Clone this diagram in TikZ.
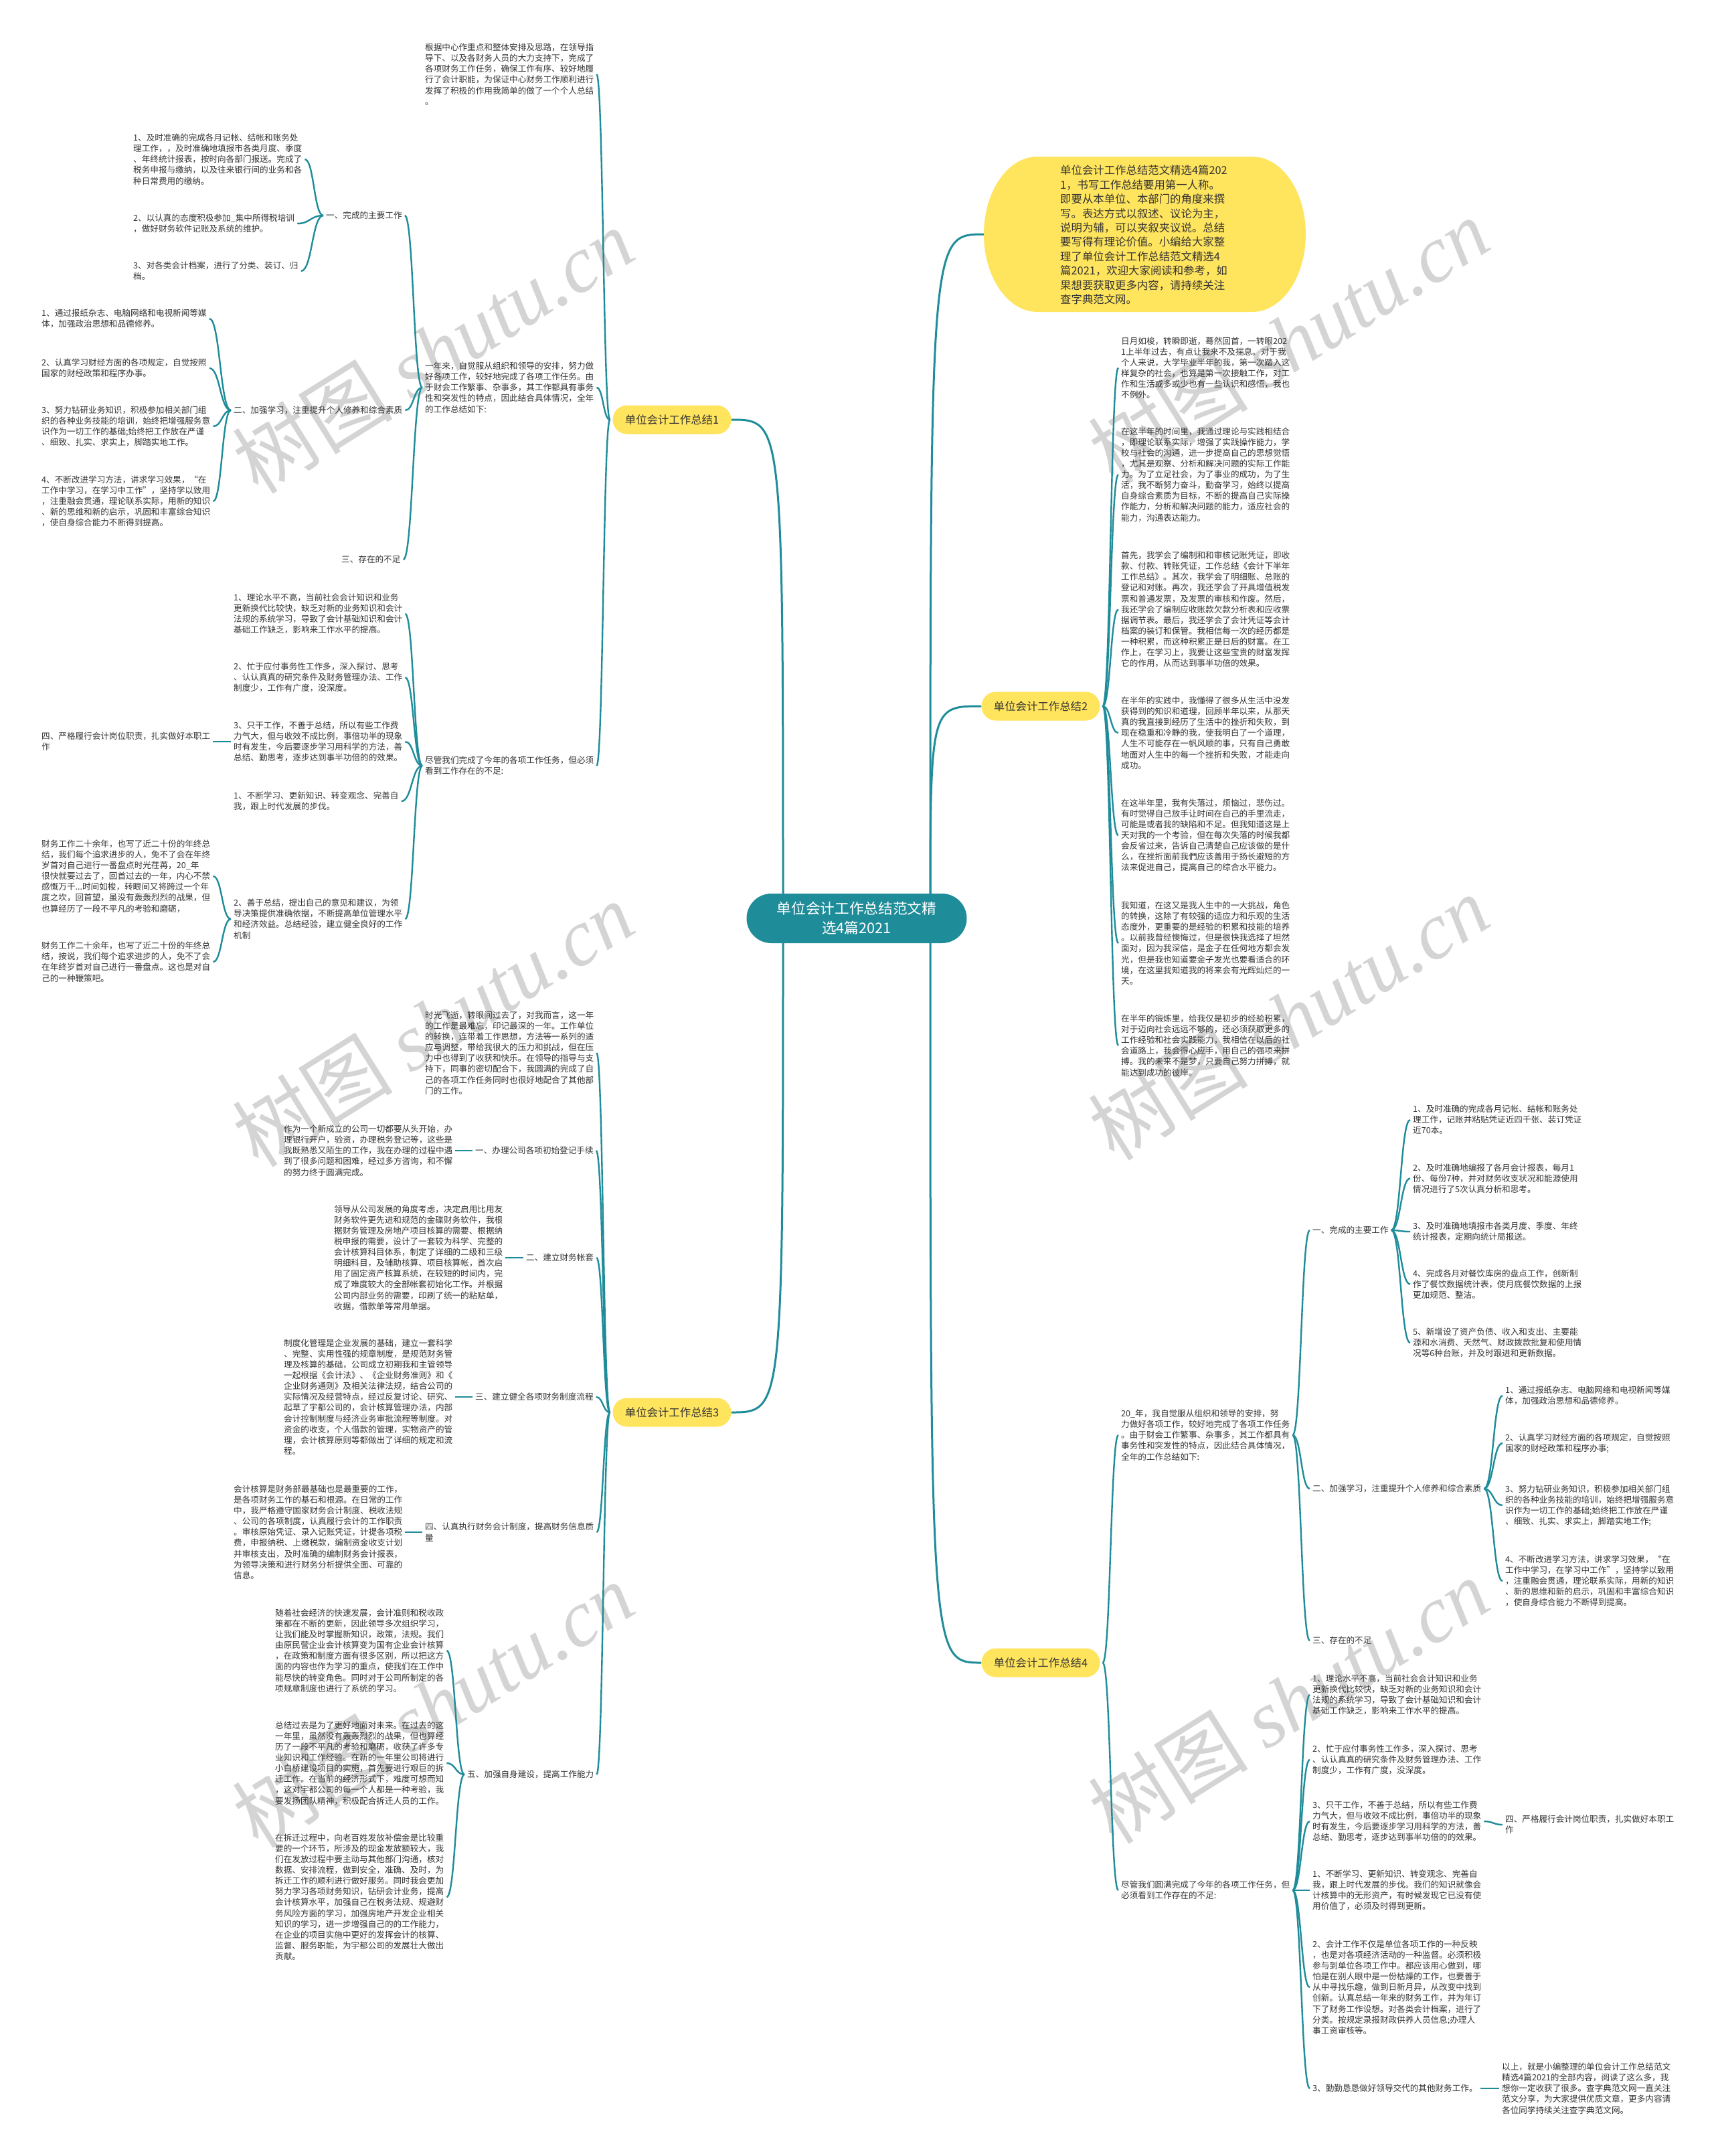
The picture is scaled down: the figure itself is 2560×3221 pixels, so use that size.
\documentclass[tikz,border=0pt]{standalone}
\usepackage{fontspec}
\setmainfont{Noto Sans CJK SC}
\newfontfamily\wmserif{Liberation Serif}
\usetikzlibrary{calc,backgrounds}
\definecolor{shutuTeal}{HTML}{1F8C99}
\definecolor{shutuYellow}{HTML}{FFE45E}
\definecolor{shutuText}{HTML}{333333}
\definecolor{shutuMark}{HTML}{D4D4D4}
% S-shaped connector between two anchors
\newcommand{\lnk}[2]{\draw[link] let \p1=(#1), \p2=(#2) in (\p1) .. controls ({(\x1+\x2)/2},\y1) and ({(\x1+\x2)/2},\y2) .. (\p2);}

\begin{document}
\begin{tikzpicture}[x=1pt,y=-1pt,
    txt/.style={font=\fontsize{12.6}{16.1}\selectfont,align=left,inner sep=0pt,text=shutuText,anchor=west},
    link/.style={draw=shutuTeal,line width=2.4pt,shorten <=4pt,shorten >=4pt},
    mainlink/.style={draw=shutuTeal,line width=3pt},
    branch/.style={fill=shutuYellow,rounded corners=21.5pt,minimum width=177pt,minimum height=43pt,inner sep=0pt,font=\fontsize{16.4}{20}\selectfont,text=shutuText},
    rootbox/.style={fill=shutuTeal,rounded corners=37pt,minimum width=329pt,minimum height=74pt,align=center,text=white,font=\fontsize{21.7}{28.8}\selectfont},
    wmark/.style={text=shutuMark,rotate=32,font=\fontsize{120}{120}\selectfont}]
  \begin{scope}[on background layer]
    \fill[white] (0,0) rectangle (2560,3221);
    \node[wmark] (wm1) at (647,524) {树图 {\wmserif\itshape shutu.cn}};
    \node[wmark] (wm2) at (1925,509) {树图 {\wmserif\itshape shutu.cn}};
    \node[wmark] (wm3) at (647,1530) {树图 {\wmserif\itshape shutu.cn}};
    \node[wmark] (wm4) at (1925,1520) {树图 {\wmserif\itshape shutu.cn}};
    \node[wmark] (wm5) at (647,2547) {树图 {\wmserif\itshape shutu.cn}};
    \node[wmark] (wm6) at (1925,2541) {树图 {\wmserif\itshape shutu.cn}};
  \end{scope}
  \useasboundingbox (0,0) rectangle (2560,3221);

  % centre, intro bubble and the four branches
  \node[rootbox] (root) at (1280,1372) {单位会计工作总结范文精\\选4篇2021};
  \fill[shutuYellow] (1550,234) -- (1871,234) arc[start angle=-90,end angle=90,x radius=80,y radius=116]
    -- (1550,466) arc[start angle=90,end angle=270,x radius=80,y radius=116] -- cycle;
  \coordinate (introL) at (1470,350);
  \node[txt,font=\fontsize{16.4}{21.4}\selectfont] (intro) at (1584,351) {单位会计工作总结范文精选4篇202\\1，书写工作总结要用第一人称。\\即要从本单位、本部门的角度来撰\\写。表达方式以叙述、议论为主，\\说明为辅，可以夹叙夹议说。总结\\要写得有理论价值。小编给大家整\\理了单位会计工作总结范文精选4\\篇2021，欢迎大家阅读和参考，如\\果想要获取更多内容，请持续关注\\查字典范文网。};
  \node[branch] (s1) at (1004,627) {单位会计工作总结1};
  \node[branch] (s2) at (1555,1055) {单位会计工作总结2};
  \node[branch] (s3) at (1004,2110) {单位会计工作总结3};
  \node[branch] (s4) at (1555,2484) {单位会计工作总结4};

  % branch 1
  \node[txt] (s1a) at (635,111) {根据中心作重点和整体安排及思路，在领导指\\导下、以及各财务人员的大力支持下，完成了\\各项财务工作任务，确保工作有序、较好地履\\行了会计职能，为保证中心财务工作顺利进行\\发挥了积极的作用我简单的做了一个个人总结\\。};
  \node[txt] (s1b) at (635,579) {一年来，自觉服从组织和领导的安排，努力做\\好各项工作，较好地完成了各项工作任务。由\\于财会工作繁事、杂事多，其工作都具有事务\\性和突发性的特点，因此结合具体情况，全年\\的工作总结如下:};
  \node[txt] (s1c) at (635,1144) {尽管我们完成了今年的各项工作任务，但必须\\看到工作存在的不足:};
  \node[txt] (s1b1) at (487,322) {一、完成的主要工作};
  \node[txt] (s1b2) at (349,613) {二、加强学习，注重提升个人修养和综合素质};
  \node[txt] (s1b3) at (510,836) {三、存在的不足};
  \node[txt] (s1b1a) at (199,238) {1、及时准确的完成各月记帐、结帐和账务处\\理工作，，及时准确地填报市各类月度、季度\\、年终统计报表，按时向各部门报送。完成了\\税务申报与缴纳，以及往来银行间的业务和各\\种日常费用的缴纳。};
  \node[txt] (s1b1b) at (199,334) {2、以认真的态度积极参加\_集中所得税培训\\，做好财务软件记账及系统的维护。};
  \node[txt] (s1b1c) at (199,405) {3、对各类会计档案，进行了分类、装订、归\\档。};
  \node[txt] (s1b2a) at (62,476) {1、通过报纸杂志、电脑网络和电视新闻等媒\\体，加强政治思想和品德修养。};
  \node[txt] (s1b2b) at (62,550) {2、认真学习财经方面的各项规定，自觉按照\\国家的财经政策和程序办事。};
  \node[txt] (s1b2c) at (62,637) {3、努力钻研业务知识，积极参加相关部门组\\织的各种业务技能的培训，始终把增强服务意\\识作为一切工作的基础;始终把工作放在严谨\\、细致、扎实、求实上，脚踏实地工作。};
  \node[txt] (s1b2d) at (62,749) {4、不断改进学习方法，讲求学习效果，“在\\工作中学习，在学习中工作”，坚持学以致用\\，注重融会贯通，理论联系实际，用新的知识\\、新的思维和新的启示，巩固和丰富综合知识\\，使自身综合能力不断得到提高。};
  \node[txt] (s1c1) at (349,917) {1、理论水平不高，当前社会会计知识和业务\\更新换代比较快，缺乏对新的业务知识和会计\\法规的系统学习，导致了会计基础知识和会计\\基础工作缺乏，影响来工作水平的提高。};
  \node[txt] (s1c2) at (349,1012) {2、忙于应付事务性工作多，深入探讨、思考\\、认认真真的研究条件及财务管理办法、工作\\制度少，工作有广度，没深度。};
  \node[txt] (s1c3) at (349,1108) {3、只干工作，不善于总结，所以有些工作费\\力气大，但与收效不成比例，事倍功半的现象\\时有发生，今后要逐步学习用科学的方法，善\\总结、勤思考，逐步达到事半功倍的的效果。};
  \node[txt] (s1c4) at (349,1197) {1、不断学习、更新知识、转变观念、完善自\\我，跟上时代发展的步伐。};
  \node[txt] (s1c5) at (349,1373) {2、善于总结，提出自己的意见和建议，为领\\导决策提供准确依据，不断提高单位管理水平\\和经济效益。总结经验，建立健全良好的工作\\机制};
  \node[txt] (s1c3a) at (62,1108) {四、严格履行会计岗位职责，扎实做好本职工\\作};
  \node[txt] (s1c5a) at (62,1309) {财务工作二十余年，也写了近二十份的年终总\\结，我们每个追求进步的人，免不了会在年终\\岁首对自己进行一番盘点时光荏苒，20\_年\\很快就要过去了，回首过去的一年，内心不禁\\感慨万千...时间如梭，转眼间又将跨过一个年\\度之坎，回首望，虽没有轰轰烈烈的战果，但\\也算经历了一段不平凡的考验和磨砺，};
  \node[txt] (s1c5b) at (62,1437) {财务工作二十余年，也写了近二十份的年终总\\结，按说，我们每个追求进步的人，免不了会\\在年终岁首对自己进行一番盘点。这也是对自\\己的一种鞭策吧。};

  % branch 2
  \node[txt] (s2a) at (1675,549.5) {日月如梭，转瞬即逝，蓦然回首，一转眼202\\1上半年过去，有点让我来不及揣息。对于我\\个人来说，大学毕业半年的我，第一次踏入这\\样复杂的社会，也算是第一次接触工作，对工\\作和生活或多或少也有一些认识和感悟，我也\\不例外。};
  \node[txt] (s2b) at (1675,709) {在这半年的时间里，我通过理论与实践相结合\\，即理论联系实际，增强了实践操作能力，学\\校与社会的沟通，进一步提高自己的思想觉悟\\，尤其是观察、分析和解决问题的实际工作能\\力。为了立足社会，为了事业的成功，为了生\\活，我不断努力奋斗，勤奋学习，始终以提高\\自身综合素质为目标，不断的提高自己实际操\\作能力，分析和解决问题的能力，适应社会的\\能力，沟通表达能力。};
  \node[txt] (s2c) at (1675,910.5) {首先，我学会了编制和和审核记账凭证，即收\\款、付款、转账凭证，工作总结《会计下半年\\工作总结》。其次，我学会了明细账、总账的\\登记和对账。再次，我还学会了开具增值税发\\票和普通发票，及发票的审核和作废。然后，\\我还学会了编制应收账款欠款分析表和应收票\\据调节表。最后，我还学会了会计凭证等会计\\档案的装订和保管。我相信每一次的经历都是\\一种积累，而这种积累正是日后的财富。在工\\作上，在学习上，我要让这些宝贵的财富发挥\\它的作用，从而达到事半功倍的效果。};
  \node[txt] (s2d) at (1675,1095) {在半年的实践中，我懂得了很多从生活中没发\\获得到的知识和道理，回顾半年以来，从那天\\真的我直接到经历了生活中的挫折和失败，到\\现在稳重和冷静的我，使我明白了一个道理，\\人生不可能存在一帆风顺的事，只有自己勇敢\\地面对人生中的每一个挫折和失败，才能走向\\成功。};
  \node[txt] (s2e) at (1675,1248) {在这半年里，我有失落过，烦恼过，悲伤过。\\有时觉得自己放手让时间在自己的手里流走，\\可能是或者我的缺陷和不足。但我知道这是上\\天对我的一个考验，但在每次失落的时候我都\\会反省过来，告诉自己清楚自己应该做的是什\\么，在挫折面前我們应该善用于扬长避短的方\\法来促进自己，提高自己的综合水平能力。};
  \node[txt] (s2f) at (1675,1409) {我知道，在这又是我人生中的一大挑战，角色\\的转换，这除了有较强的适应力和乐观的生活\\态度外，更重要的是经验的积累和技能的培养\\。以前我曾经懊悔过，但是很快我选择了坦然\\面对，因为我深信，是金子在任何地方都会发\\光，但是我也知道要金子发光也要看适合的环\\境，在这里我知道我的将来会有光辉灿烂的一\\天。};
  \node[txt] (s2g) at (1675,1562) {在半年的锻炼里，给我仅是初步的经验积累，\\对于迈向社会远远不够的，还必须获取更多的\\工作经验和社会实践能力，我相信在以后的社\\会道路上，我会得心应手，用自己的强项来拼\\搏。我的未来不是梦，只要自己努力拼搏，就\\能达到成功的彼岸。};

  % branch 3
  \node[txt] (s3a) at (635,1573) {时光飞逝，转眼间过去了，对我而言，这一年\\的工作是最难忘，印记最深的一年。工作单位\\的转换，连带着工作思想，方法等一系列的适\\应与调整，带给我很大的压力和挑战，但在压\\力中也得到了收获和快乐。在领导的指导与支\\持下，同事的密切配合下，我圆满的完成了自\\己的各项工作任务同时也很好地配合了其他部\\门的工作。};
  \node[txt] (s3b) at (710,1719) {一、办理公司各项初始登记手续};
  \node[txt] (s3c) at (786,1879) {二、建立财务帐套};
  \node[txt] (s3d) at (710,2087) {三、建立健全各项财务制度流程};
  \node[txt] (s3e) at (635,2289) {四、认真执行财务会计制度，提高财务信息质\\量};
  \node[txt] (s3f) at (698,2651) {五、加强自身建设，提高工作能力};
  \node[txt] (s3b1) at (424,1719) {作为一个新成立的公司一切都要从头开始，办\\理银行开户，验资，办理税务登记等，这些是\\我既熟悉又陌生的工作，我在办理的过程中遇\\到了很多问题和困难，经过多方咨询，和不懈\\的努力终于圆满完成。};
  \node[txt] (s3c1) at (499,1879) {领导从公司发展的角度考虑，决定启用比用友\\财务软件更先进和规范的金碟财务软件，我根\\据财务管理及房地产项目核算的需要、根据纳\\税申报的需要，设计了一套较为科学、完整的\\会计核算科目体系，制定了详细的二级和三级\\明细科目，及辅助核算、项目核算帐，首次启\\用了固定资产核算系统，在较短的时间内，完\\成了难度较大的全部帐套初始化工作。并根据\\公司内部业务的需要，印刷了统一的粘贴单，\\收据，借款单等常用单据。};
  \node[txt] (s3d1) at (424,2087) {制度化管理是企业发展的基础，建立一套科学\\、完整、实用性强的规章制度，是规范财务管\\理及核算的基础，公司成立初期我和主管领导\\一起根据《会计法》、《企业财务准则》和《\\企业财务通则》及相关法律法规，结合公司的\\实际情况及经营特点，经过反复讨论、研究、\\起草了宇都公司的，会计核算管理办法，内部\\会计控制制度与经济业务审批流程等制度。对\\资金的收支，个人借款的管理，实物资产的管\\理，会计核算原则等都做出了详细的规定和流\\程。};
  \node[txt] (s3e1) at (349,2289) {会计核算是财务部最基础也是最重要的工作，\\是各项财务工作的基石和根源。在日常的工作\\中，我严格遵守国家财务会计制度、税收法规\\、公司的各项制度，认真履行会计的工作职责\\。审核原始凭证、录入记账凭证，计提各项税\\费，申报纳税、上缴税款，编制资金收支计划\\并审核支出，及时准确的编制财务会计报表，\\为领导决策和进行财务分析提供全面、可靠的\\信息。};
  \node[txt] (s3f1) at (411,2466) {随着社会经济的快速发展，会计准则和税收政\\策都在不断的更新，因此领导多次组织学习，\\让我们能及时掌握新知识，政策，法规。我们\\由原民营企业会计核算变为国有企业会计核算\\，在政策和制度方面有很多区别，所以把这方\\面的内容也作为学习的重点，使我们在工作中\\能尽快的转变角色。同时对于公司所制定的各\\项规章制度也进行了系统的学习。};
  \node[txt] (s3f2) at (411,2634) {总结过去是为了更好地面对未来。在过去的这\\一年里，虽然没有轰轰烈烈的战果，但也算经\\历了一段不平凡的考验和磨砺，收获了许多专\\业知识和工作经验。在新的一年里公司将进行\\小白桥建设项目的实施，首先要进行艰巨的拆\\迁工作。在当前的经济形式下，难度可想而知\\，这对宇都公司的每一个人都是一种考验，我\\要发扬团队精神，积极配合拆迁人员的工作。};
  \node[txt] (s3f3) at (411,2834) {在拆迁过程中，向老百姓发放补偿金是比较重\\要的一个环节，所涉及的现金发放额较大，我\\们在发放过程中要主动与其他部门沟通，核对\\数据、安排流程，做到安全，准确、及时，为\\拆迁工作的顺利进行做好服务。同时我会更加\\努力学习各项财务知识，钻研会计业务，提高\\会计核算水平，加强自己在税务法规、规避财\\务风险方面的学习，加强房地产开发企业相关\\知识的学习，进一步增强自己的的工作能力，\\在企业的项目实施中更好的发挥会计的核算、\\监督、服务职能，为宇都公司的发展壮大做出\\贡献。};

  % branch 4
  \node[txt] (s4a) at (1675,2144) {20\_年，我自觉服从组织和领导的安排，努\\力做好各项工作，较好地完成了各项工作任务\\。由于财会工作繁事、杂事多，其工作都具有\\事务性和突发性的特点，因此结合具体情况，\\全年的工作总结如下:};
  \node[txt] (s4b) at (1675,2824) {尽管我们圆满完成了今年的各项工作任务，但\\必须看到工作存在的不足:};
  \node[txt] (s4a1) at (1961,1838) {一、完成的主要工作};
  \node[txt] (s4a2) at (1961,2224) {二、加强学习，注重提升个人修养和综合素质};
  \node[txt] (s4a3) at (1961,2451) {三、存在的不足};
  \node[txt] (s4a1a) at (2111,1673) {1、及时准确的完成各月记帐、结帐和账务处\\理工作，记账并粘贴凭证近四千张、装订凭证\\近70本。};
  \node[txt] (s4a1b) at (2111,1760.5) {2、及时准确地编报了各月会计报表，每月1\\份、每份7种，并对财务收支状况和能源使用\\情况进行了5次认真分析和思考。};
  \node[txt] (s4a1c) at (2111,1840) {3、及时准确地填报市各类月度、季度、年终\\统计报表，定期向统计局报送。};
  \node[txt] (s4a1d) at (2111,1918.5) {4、完成各月对餐饮库房的盘点工作，创新制\\作了餐饮数据统计表，使月底餐饮数据的上报\\更加规范、整洁。};
  \node[txt] (s4a1e) at (2111,2006) {5、新增设了资产负债、收入和支出、主要能\\源和水消费、天然气、财政拨款批复和使用情\\况等6种台账，并及时跟进和更新数据。};
  \node[txt] (s4a2a) at (2249,2085) {1、通过报纸杂志、电脑网络和电视新闻等媒\\体，加强政治思想和品德修养。};
  \node[txt] (s4a2b) at (2249,2156) {2、认真学习财经方面的各项规定，自觉按照\\国家的财经政策和程序办事;};
  \node[txt] (s4a2c) at (2249,2249) {3、努力钻研业务知识，积极参加相关部门组\\织的各种业务技能的培训，始终把增强服务意\\识作为一切工作的基础;始终把工作放在严谨\\、细致、扎实、求实上，脚踏实地工作;};
  \node[txt] (s4a2d) at (2249,2362) {4、不断改进学习方法，讲求学习效果，“在\\工作中学习，在学习中工作”，坚持学以致用\\，注重融会贯通，理论联系实际，用新的知识\\、新的思维和新的启示，巩固和丰富综合知识\\，使自身综合能力不断得到提高。};
  \node[txt] (s4b1) at (1961,2532) {1、理论水平不高，当前社会会计知识和业务\\更新换代比较快，缺乏对新的业务知识和会计\\法规的系统学习，导致了会计基础知识和会计\\基础工作缺乏，影响来工作水平的提高。};
  \node[txt] (s4b2) at (1961,2629) {2、忙于应付事务性工作多，深入探讨、思考\\、认认真真的研究条件及财务管理办法、工作\\制度少，工作有广度，没深度。};
  \node[txt] (s4b3) at (1961,2721) {3、只干工作，不善于总结，所以有些工作费\\力气大，但与收效不成比例，事倍功半的现象\\时有发生，今后要逐步学习用科学的方法，善\\总结、勤思考，逐步达到事半功倍的的效果。};
  \node[txt] (s4b4) at (1961,2824) {1、不断学习、更新知识、转变观念、完善自\\我，跟上时代发展的步伐。我们的知识就像会\\计核算中的无形资产，有时候发现它已没有使\\用价值了，必须及时得到更新。};
  \node[txt] (s4b5) at (1961,2969) {2、会计工作不仅是单位各项工作的一种反映\\，也是对各项经济活动的一种监督。必须积极\\参与到单位各项工作中。都应该用心做到，哪\\怕是在别人眼中是一份枯燥的工作，也要善于\\从中寻找乐趣，做到日新月异，从改变中找到\\创新。认真总结一年来的财务工作，并为年订\\下了财务工作设想。对各类会计档案，进行了\\分类。按规定录报财政供养人员信息;办理人\\事工资审核等。};
  \node[txt] (s4b6) at (1961,3120) {3、勤勤恳恳做好领导交代的其他财务工作。};
  \node[txt] (s4b3a) at (2249,2726) {四、严格履行会计岗位职责，扎实做好本职工\\作};
  \node[txt] (s4b6a) at (2244,3120) {以上，就是小编整理的单位会计工作总结范文\\精选4篇2021的全部内容，阅读了这么多，我\\想你一定收获了很多。查字典范文网一直关注\\范文分享，为大家提供优质文章，更多内容请\\各位同学持续关注查字典范文网。};

  \begin{scope}[on background layer]
    \coordinate (rootL) at (1170,1372);
    \coordinate (rootR) at (1390,1372);
    \draw[mainlink] (rootL) .. controls (rootL |- s1) .. (s1.east);
    \draw[mainlink] (rootL) .. controls (rootL |- s3) .. (s3.east);
    \draw[mainlink] (rootR) .. controls (rootR |- s2) .. (s2.west);
    \draw[mainlink] (rootR) .. controls (rootR |- s4) .. (s4.west);
    \draw[mainlink] (rootR) .. controls (rootR |- introL) .. (introL);
    % branch 1
    \lnk{s1.west}{s1a.east} \lnk{s1.west}{s1b.east} \lnk{s1.west}{s1c.east}
    \lnk{s1b.west}{s1b1.east} \lnk{s1b.west}{s1b2.east} \lnk{s1b.west}{s1b3.east}
    \lnk{s1b1.west}{s1b1a.east} \lnk{s1b1.west}{s1b1b.east} \lnk{s1b1.west}{s1b1c.east}
    \lnk{s1b2.west}{s1b2a.east} \lnk{s1b2.west}{s1b2b.east} \lnk{s1b2.west}{s1b2c.east} \lnk{s1b2.west}{s1b2d.east}
    \lnk{s1c.west}{s1c1.east} \lnk{s1c.west}{s1c2.east} \lnk{s1c.west}{s1c3.east} \lnk{s1c.west}{s1c4.east} \lnk{s1c.west}{s1c5.east}
    \lnk{s1c3.west}{s1c3a.east}
    \lnk{s1c5.west}{s1c5a.east} \lnk{s1c5.west}{s1c5b.east}
    % branch 2
    \foreach \k in {a,b,c,d,e,f,g} {\lnk{s2.east}{s2\k.west}}
    % branch 3
    \foreach \k in {a,b,c,d,e,f} {\lnk{s3.west}{s3\k.east}}
    \lnk{s3b.west}{s3b1.east} \lnk{s3c.west}{s3c1.east} \lnk{s3d.west}{s3d1.east} \lnk{s3e.west}{s3e1.east}
    \lnk{s3f.west}{s3f1.east} \lnk{s3f.west}{s3f2.east} \lnk{s3f.west}{s3f3.east}
    % branch 4
    \lnk{s4.east}{s4a.west} \lnk{s4.east}{s4b.west}
    \foreach \k in {1,2,3} {\lnk{s4a.east}{s4a\k.west}}
    \foreach \k in {a,b,c,d,e} {\lnk{s4a1.east}{s4a1\k.west}}
    \foreach \k in {a,b,c,d} {\lnk{s4a2.east}{s4a2\k.west}}
    \foreach \k in {1,...,6} {\lnk{s4b.east}{s4b\k.west}}
    \lnk{s4b3.east}{s4b3a.west} \lnk{s4b6.east}{s4b6a.west}
  \end{scope}
\end{tikzpicture}
\end{document}
